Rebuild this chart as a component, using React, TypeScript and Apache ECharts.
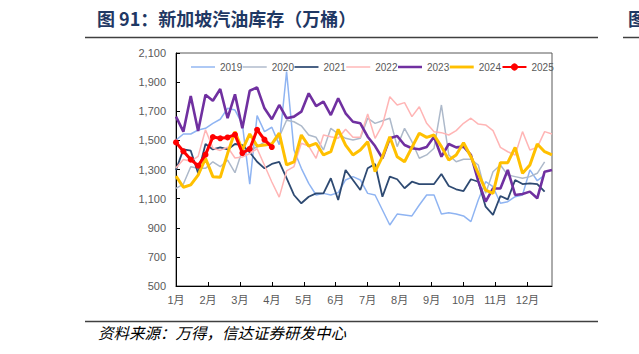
import React, { useEffect, useRef } from "react";
import * as echarts from "echarts";

const years = ["2019", "2020", "2021", "2022", "2023", "2024", "2025"];
const monthLabels = ["1月", "2月", "3月", "4月", "5月", "6月", "7月", "8月", "9月", "10月", "11月", "12月"];
const yTicks = { min: 500, max: 2100, interval: 200 };
const weeksPerYear = 52;

const s2019 = [1502, 1544, 1544, 1571, 1583, 1617, 1645, 1720, 1708, 1612, 1200, 1670, 1560, 1590, 1470, 1972, 1434, 1308, 1205, 1125, 1136, 1125, 1141, 1228, 1251, 1228, 1136, 1125, 1022, 919, 994, 988, 981, 1056, 1125, 1125, 994, 1003, 994, 981, 942, 1091, 1216, 1182, 1068, 1079, 1113, 1125, 1297, 1223, 1262];
const s2020 = [1171, 1200, 1319, 1308, 1308, 1353, 1319, 1365, 1278, 1432, 1432, 1455, 1489, 1477, 1523, 1638, 1628, 1600, 1537, 1521, 1434, 1583, 1544, 1514, 1502, 1514, 1652, 1617, 1635, 1652, 1457, 1583, 1491, 1377, 1400, 1446, 1743, 1400, 1353, 1370, 1370, 1331, 1136, 1285, 1331, 1262, 1251, 1240, 1251, 1274, 1353];
const s2021 = [1297, 1438, 1429, 1274, 1475, 1438, 1452, 1438, 1475, 1468, 1418, 1353, 1308, 1338, 1353, 1240, 1125, 1068, 1113, 1136, 1136, 1240, 1091, 1297, 1228, 1159, 1308, 1338, 1113, 1251, 1233, 1171, 1216, 1200, 1200, 1200, 1269, 1187, 1164, 1152, 1233, 1216, 1045, 988, 1118, 1095, 1228, 1200, 1205, 1200, 1148];
const s2022 = [1310, 1368, 1356, 1390, 1573, 1447, 1431, 1454, 1379, 1386, 1409, 1443, 1329, 1214, 1110, 1290, 1320, 1480, 1461, 1377, 1537, 1525, 1514, 1576, 1521, 1521, 1681, 1514, 1606, 1800, 1743, 1759, 1663, 1731, 1617, 1560, 1553, 1537, 1567, 1617, 1652, 1612, 1606, 1567, 1452, 1422, 1400, 1560, 1434, 1452, 1560, 1544];
const s2023 = [1663, 1560, 1805, 1564, 1814, 1772, 1853, 1652, 1816, 1583, 1841, 1864, 1720, 1645, 1743, 1652, 1663, 1697, 1823, 1736, 1766, 1674, 1789, 1686, 1628, 1617, 1525, 1461, 1377, 1514, 1530, 1468, 1446, 1439, 1455, 1525, 1388, 1475, 1452, 1457, 1400, 1220, 1080, 1170, 1170, 1297, 1125, 1132, 1148, 1102, 1285, 1297];
const s2024 = [1255, 1178, 1194, 1262, 1377, 1251, 1246, 1411, 1560, 1434, 1544, 1461, 1468, 1475, 1550, 1331, 1353, 1537, 1461, 1480, 1400, 1422, 1576, 1468, 1400, 1434, 1491, 1285, 1388, 1525, 1388, 1353, 1452, 1549, 1521, 1537, 1457, 1365, 1400, 1484, 1388, 1274, 1159, 1136, 1347, 1347, 1452, 1274, 1331, 1475, 1422, 1400];
const s2025 = [1486, 1425, 1368, 1326, 1402, 1523, 1514, 1520, 1539, 1413, 1441, 1573, 1505, 1454];

const seriesValues = [s2019, s2020, s2021, s2022, s2023, s2024, s2025];
const colors = ["#8FB4F2", "#ADB9CA", "#2E4A72", "#FFB5B5", "#7030A0", "#FFC000", "#FF0000"];
const widths = [1.5, 1.5, 1.8, 1.5, 2.6, 3, 3];

const toPoints = (arr: number[]) => arr.map((v, i) => [(i * 12) / weeksPerYear, v]);

export default function App() {
  const ref = useRef<HTMLDivElement>(null);
  useEffect(() => {
    if (!ref.current) return;
    const chart = echarts.init(ref.current, undefined, { renderer: "svg" });
    const series = years.map((y, k) => ({
      name: y,
      type: "line",
      data: toPoints(seriesValues[k]),
      symbol: y === "2025" ? "circle" : "none",
      symbolSize: 6,
      showSymbol: y === "2025",
      lineStyle: { width: widths[k], color: colors[k] },
      itemStyle: { color: colors[k] },
      z: 2 + k,
    }));
    const legendData = years.map((y, k) =>
      y === "2025" ? { name: y } : { name: y, icon: `path://M0,0H25V${widths[k]}H0Z` }
    );
    chart.setOption({
      animation: false,
      grid: { left: 176, right: 87, top: 53, bottom: 68, show: true, borderColor: "#595959", borderWidth: 1 },
      legend: {
        data: legendData,
        left: 186,
        top: 57,
        itemWidth: 24,
        itemHeight: 9,
        itemGap: 0.5,
        symbolKeepAspect: true,
        textStyle: { fontSize: 10, color: "#595959", fontFamily: "Liberation Sans" },
      },
      xAxis: {
        type: "value",
        min: 0,
        max: (51 * 12) / weeksPerYear,
        interval: 1,
        axisLine: { lineStyle: { color: "#000", width: 1 } },
        axisTick: { inside: true, length: 4, lineStyle: { color: "#000" } },
        splitLine: { show: false },
        axisLabel: {
          color: "#595959",
          fontSize: 11,
          fontFamily: "Liberation Sans, Noto Sans CJK SC",
          margin: 8,
          showMaxLabel: false,
          formatter: (v: number) => {
            const r = Math.round(v);
            return Math.abs(v - r) < 1e-6 && r < monthLabels.length ? monthLabels[r] : "";
          },
        },
      },
      yAxis: {
        type: "value",
        min: yTicks.min,
        max: yTicks.max,
        interval: yTicks.interval,
        axisLine: { show: true, lineStyle: { color: "#000", width: 1 } },
        axisTick: { show: true, inside: true, length: 4, lineStyle: { color: "#000" } },
        splitLine: { show: false },
        axisLabel: {
          color: "#595959",
          fontSize: 11,
          fontFamily: "Liberation Sans",
          margin: 10,
          formatter: (v: number) => v.toLocaleString("en-US"),
        },
      },
      series,
      graphic: [
        { type: "text", left: 97, top: 9, style: { text: "图 91：新加坡汽油库存（万桶）", font: 'bold 18px "Noto Sans CJK SC"', fill: "#1F3864" } },
        { type: "line", shape: { x1: 85, y1: 37.5, x2: 598, y2: 37.5 }, style: { stroke: "#404040", lineWidth: 1.5 } },
        { type: "text", left: 628, top: 9, style: { text: "图", font: 'bold 18px "Noto Sans CJK SC"', fill: "#1F3864" } },
        { type: "line", shape: { x1: 623, y1: 37.5, x2: 639, y2: 37.5 }, style: { stroke: "#404040", lineWidth: 1.5 } },
        { type: "line", shape: { x1: 85, y1: 321.5, x2: 598, y2: 321.5 }, style: { stroke: "#404040", lineWidth: 1.5 } },
        { type: "text", left: 98, top: 324, style: { text: "资料来源：万得，信达证券研发中心", font: 'italic 15.5px "Noto Sans CJK SC"', fill: "#000" } },
      ],
    });
    return () => chart.dispose();
  }, []);
  return <div ref={ref} style={{ position: "fixed", left: 0, top: 0, width: 639, height: 354, background: "#fff" }} />;
}
